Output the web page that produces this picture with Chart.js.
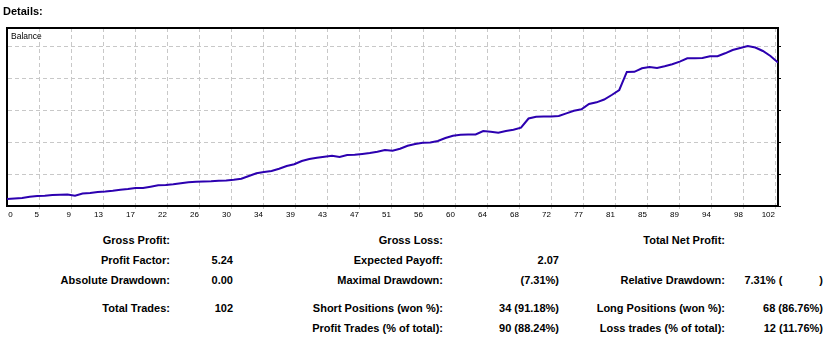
<!DOCTYPE html>
<html>
<head>
<meta charset="utf-8">
<title>Details</title>
<script src="https://cdn.jsdelivr.net/npm/chart.js@4.4.0/dist/chart.umd.min.js"></script>
<style>
  html, body { margin: 0; padding: 0; background: #fff; }
  body { width: 836px; height: 341px; position: relative; overflow: hidden;
         font-family: "Liberation Sans", Arial, sans-serif; color: #000; }
  #title { position: absolute; left: 3px; top: 1px; font-size: 11px; font-weight: bold; line-height: 20px; }
  #chart-box { position: absolute; left: 0; top: 0; width: 836px; height: 228px; }
  #series-name { position: absolute; left: 11px; top: 30px; font-size: 8.5px; line-height: 12px; }
  #stats { position: absolute; left: 0; top: 230px; border-collapse: collapse; table-layout: fixed;
           font-size: 11px; font-weight: bold; }
  #stats td { padding: 0; height: 20px; line-height: 20px; text-align: right; white-space: pre; }
  #stats tr.gap td { height: 8px; line-height: 8px; }
  .blank { display: inline-block; width: 37px; }
</style>
</head>
<body>
<div id="chart-box"><canvas id="balanceChart" width="836" height="228"></canvas></div>
<div id="title">Details:</div>
<div id="series-name">Balance</div>

<table id="stats">
  <colgroup>
    <col style="width:170px"><col style="width:63px"><col style="width:210px">
    <col style="width:116px"><col style="width:166px"><col style="width:98px">
  </colgroup>
  <tr><td>Gross Profit:</td><td></td><td>Gross Loss:</td><td></td><td>Total Net Profit:</td><td></td></tr>
  <tr><td>Profit Factor:</td><td>5.24</td><td>Expected Payoff:</td><td>2.07</td><td></td><td></td></tr>
  <tr><td>Absolute Drawdown:</td><td>0.00</td><td>Maximal Drawdown:</td><td>(7.31%)</td><td>Relative Drawdown:</td><td>7.31% (<span class="blank"></span>)</td></tr>
  <tr class="gap"><td></td><td></td><td></td><td></td><td></td><td></td></tr>
  <tr><td>Total Trades:</td><td>102</td><td>Short Positions (won %):</td><td>34 (91.18%)</td><td>Long Positions (won %):</td><td>68 (86.76%)</td></tr>
  <tr><td></td><td></td><td>Profit Trades (% of total):</td><td>90 (88.24%)</td><td>Loss trades (% of total):</td><td>12 (11.76%)</td></tr>
</table>

<script>
// --- Balance after each closed trade (trade 0 = starting deposit) ---
const balance = [
    210.9, 211.7, 212.5, 214.5, 215.6, 216.1, 217.2, 217.7, 217.9, 216.1,
    219.5, 220.3, 221.9, 222.7, 223.9, 225.5, 226.6, 228.1, 228.3, 230.2,
    232.3, 232.8, 233.9, 235.5, 237.0, 238.0, 238.3, 238.6, 239.5, 239.8,
    241.1, 242.7, 246.9, 251.1, 253.1, 254.7, 258.3, 262.5, 265.2, 270.3,
    273.4, 275.5, 277.0, 278.6, 276.6, 279.7, 280.0, 281.3, 282.8, 284.8,
    287.5, 286.4, 289.5, 294.2, 296.9, 298.9, 299.1, 301.6, 306.3, 309.8,
    311.4, 311.6, 311.8, 317.2, 316.1, 314.5, 317.2, 319.2, 322.3, 336.7,
    339.5, 339.7, 339.9, 340.6, 344.8, 348.9, 351.1, 359.4, 362.0, 366.4,
    373.4, 381.3, 409.4, 409.6, 415.2, 417.2, 415.6, 418.3, 421.4, 425.5,
    430.8, 431.0, 431.3, 433.9, 434.1, 438.6, 443.8, 446.9, 450.0, 447.7,
    442.2, 434.4, 424.2
];
const trades = balance.map((_, i) => i);

// --- Axis labels ---
const xTickLabels = ['0', '5', '9', '13', '17', '22', '26', '30', '34', '39', '43', '47', '51',
                     '56', '60', '64', '68', '72', '77', '81', '85', '89', '94', '98', '102'];
const balanceGrid = [200, 250, 300, 350, 400, 450];
const balanceMin = 200;
const balanceMax = 478.125;

// --- Look ---
const FONT = '"Liberation Sans", Arial, sans-serif';
const gridGray = '#c8c8c8';
const lineColor = '#2c00b0';
const tickStep = 4.2335;          // one grid column in trade units

function xTickValue(i) {
    // first label sits just inside the frame
    return i === 0 ? 0.75 : i * tickStep;
}

const ctx = document.getElementById('balanceChart').getContext('2d');
window.chart = new Chart(ctx, {
    type: 'line',
    data: {
        datasets: [{
            label: 'Balance',
            data: trades.map((t, i) => ({ x: t, y: balance[i] })),
            borderColor: lineColor,
            borderWidth: 2,
            pointRadius: 0,
            tension: 0,
            fill: false
        }]
    },
    options: {
        responsive: false,
        animation: false,
        layout: { padding: { left: 7, top: 28, right: 58, bottom: 2 } },
        plugins: {
            legend: { display: false },
            tooltip: { enabled: false }
        },
        scales: {
            x: {
                type: 'linear',
                position: 'bottom',
                min: 0,
                max: 102,
                afterBuildTicks: scale => {
                    scale.ticks = xTickLabels.map((_, i) => ({ value: xTickValue(i) }));
                },
                afterFit: scale => { scale.height = 20; },
                ticks: {
                    align: 'end',
                    padding: 1,
                    autoSkip: false,
                    maxRotation: 0,
                    color: '#000',
                    font: { family: FONT, size: 8 },
                    callback: (value, index) => xTickLabels[index]
                },
                grid: {
                    color: c => c.index === 0 ? 'rgba(0,0,0,0)' : gridGray,
                    tickColor: c => c.index === 0 ? 'rgba(0,0,0,0)' : gridGray,
                    tickLength: 3,
                    lineWidth: 1
                },
                border: { display: true, color: '#000', width: 2, dash: [4, 3] }
            },
            y: {
                position: 'left',
                min: balanceMin,
                max: balanceMax,
                afterBuildTicks: scale => {
                    scale.ticks = balanceGrid.map(v => ({ value: v }));
                },
                afterFit: scale => { scale.width = 0; },
                ticks: { display: false },
                grid: { color: gridGray, drawTicks: false, lineWidth: 1 },
                border: { display: true, color: '#000', width: 2, dash: [4, 3] }
            },
            yRight: {
                position: 'right',
                min: balanceMin,
                max: balanceMax,
                afterBuildTicks: scale => {
                    scale.ticks = balanceGrid.map(v => ({ value: v }));
                },
                afterFit: scale => { scale.width = 0; },
                ticks: { display: false },
                grid: { drawOnChartArea: false, tickLength: 3, tickColor: '#000' },
                border: { display: true, color: '#000', width: 2 }
            },
            xTop: {
                type: 'linear',
                position: 'top',
                min: 0,
                max: 102,
                afterFit: scale => { scale.height = 0; },
                ticks: { display: false },
                grid: { display: false },
                border: { display: true, color: '#000', width: 2 }
            }
        }
    }
});
</script>
</body>
</html>
